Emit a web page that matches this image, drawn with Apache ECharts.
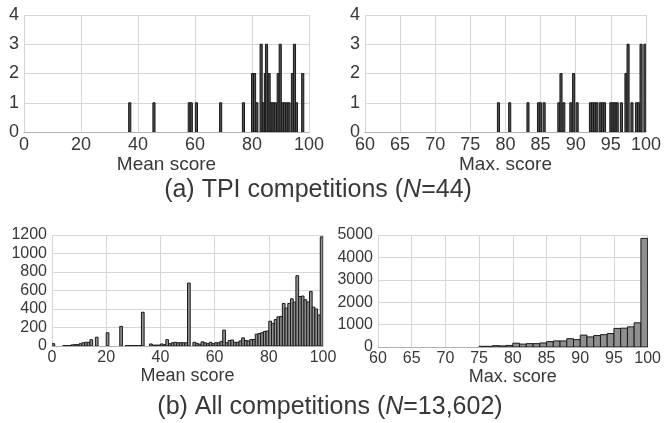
<!DOCTYPE html>
<html><head><meta charset="utf-8">
<script src="https://cdn.jsdelivr.net/npm/echarts@6/dist/echarts.min.js"></script>
<style>html,body{margin:0;padding:0;background:#fff}#c{width:664px;height:423px}</style>
</head><body><div id="c"></div>
<script>
// (a) TPI competitions: bin centres and counts
const tpiMeanX = [37.1, 45.6, 58.0, 58.7, 60.5, 69.0, 77.0, 80.2, 80.9, 81.7, 83.2, 84.0, 84.7, 85.1, 86.0, 86.7, 87.4, 88.2, 89.2, 89.9, 90.7, 91.4, 92.2, 93.0, 94.2, 94.9, 95.6, 97.8];
const tpiMeanY = [1, 1, 1, 1, 1, 1, 1, 2, 2, 1, 3, 1, 2, 3, 2, 1, 1, 1, 2, 3, 1, 1, 1, 1, 2, 3, 1, 2];
const tpiMaxX = [79.0, 80.6, 83.2, 84.7, 85.0, 85.5, 87.6, 87.9, 88.3, 89.3, 89.7, 90.2, 92.1, 92.4, 92.7, 93.0, 93.5, 93.8, 94.1, 95.0, 95.3, 95.6, 95.9, 96.5, 97.15, 97.45, 98.0, 98.65, 98.95, 99.3, 99.85];
const tpiMaxY = [1, 1, 1, 1, 1, 1, 1, 2, 1, 1, 2, 1, 1, 1, 1, 1, 1, 1, 1, 1, 1, 1, 1, 1, 2, 3, 1, 1, 1, 3, 3];

// (b) All competitions: 1-point bins (bin start, count)
const allMeanBins = [0,1,2,3,4,5,6,7,8,9,10,11,12,13,14,15,16,17,18,19,20,21,22,23,24,25,26,27,28,29,30,31,32,33,34,35,36,37,38,39,40,41,42,43,44,45,46,47,48,49,50,51,52,53,54,55,56,57,58,59,60,61,62,63,64,65,66,67,68,69,70,71,72,73,74,75,76,77,78,79,80,81,82,83,84,85,86,87,88,89,90,91,92,93,94,95,96,97,98,99];
const allMeanCounts = [
  25, 0, 0, 0, 5, 5, 5, 12, 15, 15,
  25, 35, 40, 40, 68, 0, 95, 0, 0, 0,
  143, 0, 0, 0, 0, 212, 0, 5, 5, 5,
  5, 5, 5, 365, 0, 0, 22, 10, 10, 10,
  22, 15, 68, 25, 35, 40, 35, 35, 35, 35,
  680, 0, 40, 30, 20, 45, 35, 25, 40, 25,
  35, 35, 50, 172, 35, 60, 65, 40, 40, 55,
  88, 60, 55, 70, 70, 128, 136, 143, 158, 162,
  268, 245, 285, 315, 320, 460, 410, 460, 510, 475,
  760, 535, 540, 500, 475, 590, 420, 400, 335, 1180];
const allMaxBins = [60,61,62,63,64,65,66,67,68,69,70,71,72,73,74,75,76,77,78,79,80,81,82,83,84,85,86,87,88,89,90,91,92,93,94,95,96,97,98,99];
const allMaxCounts = [0,0,0,0,0,0,0,0,0,0,0,0,0,0,0,
  30, 30, 60, 50, 70, 170, 130, 150, 150, 180,
  240, 270, 270, 370, 330, 530, 450, 510, 550, 600,
  830, 840, 900, 1080, 4850];

const meanTicks = [0, 20, 40, 60, 80, 100];
const maxTicks = [60, 65, 70, 75, 80, 85, 90, 95, 100];

const FONT = '"Liberation Sans", Arial, Helvetica, sans-serif';
const TXT = '#383838';
const GRIDC = '#d6d6d6';

function hist(idx, pts, binW, leftEdge, fill, stroke) {
  return {
    type: 'custom', xAxisIndex: idx, yAxisIndex: idx, clip: true,
    data: pts, encode: { x: 0, y: 1 },
    renderItem: function (p, api) {
      const x = api.value(0), v = api.value(1);
      if (!v) return null;
      const x0 = leftEdge ? x : x - binW / 2;
      const a = api.coord([x0, v]);
      const b = api.coord([x0 + binW, 0]);
      return { type: 'rect', shape: { x: a[0], y: a[1], width: b[0] - a[0], height: b[1] - a[1] },
        style: { fill: fill, stroke: stroke, lineWidth: 1 } };
    }
  };
}
function xAx(idx, min, max, interval, name, fs, nfs, gap) {
  return { gridIndex: idx, type: 'value', min: min, max: max, interval: interval,
    name: name, nameLocation: 'middle', nameGap: gap,
    nameTextStyle: { fontFamily: FONT, fontSize: nfs, color: TXT },
    axisLine: { show: true, lineStyle: { color: '#b0b0b0' } }, axisTick: { show: false },
    axisLabel: { fontFamily: FONT, fontSize: fs, color: TXT, margin: 4, showMaxLabel: true, showMinLabel: true,
      formatter: v => String(v) },
    splitLine: { show: true, lineStyle: { color: GRIDC } } };
}
function yAx(idx, max, interval, fs) {
  return { gridIndex: idx, type: 'value', min: 0, max: max, interval: interval,
    axisLine: { show: false }, axisTick: { show: false },
    axisLabel: { fontFamily: FONT, fontSize: fs, color: TXT, margin: 5, formatter: v => String(v) },
    splitLine: { show: true, lineStyle: { color: GRIDC } } };
}

const chart = echarts.init(document.getElementById('c'), null, { renderer: 'canvas' });
chart.setOption({
  animation: false,
  grid: [
    { left: 24, top: 15, width: 285, height: 117 },
    { left: 365, top: 15, width: 284, height: 117 },
    { left: 52, top: 235, width: 271, height: 111 },
    { left: 378, top: 235, width: 273, height: 112 }
  ],
  xAxis: [
    xAx(0, meanTicks[0], meanTicks[meanTicks.length - 1], 20, 'Mean score', 18, 19, 17),
    xAx(1, maxTicks[0], maxTicks[maxTicks.length - 1], 5, 'Max. score', 18, 19, 17),
    xAx(2, meanTicks[0], meanTicks[meanTicks.length - 1], 20, 'Mean score', 16, 18, 20),
    xAx(3, maxTicks[0], maxTicks[maxTicks.length - 1], 5, 'Max. score', 16, 18, 20)
  ],
  yAxis: [yAx(0, 4, 1, 18), yAx(1, 4, 1, 18), yAx(2, 1200, 200, 16), yAx(3, 5000, 1000, 16)],
  series: [
    hist(0, tpiMeanX.map((x, i) => [x, tpiMeanY[i]]), 0.75, false, '#4d4d4d', '#1a1a1a'),
    hist(1, tpiMaxX.map((x, i) => [x, tpiMaxY[i]]), 0.3, false, '#4d4d4d', '#1a1a1a'),
    hist(2, allMeanBins.map((x, i) => [x, allMeanCounts[i]]), 1, true, '#8f8f8f', '#1a1a1a'),
    hist(3, allMaxBins.map((x, i) => [x, allMaxCounts[i]]), 1, true, '#8f8f8f', '#1a1a1a')
  ],
  graphic: [
    { type: 'text', x: 318, y: 190, style: { text: '(a) TPI competitions ({i|N}=44)', align: 'center', verticalAlign: 'middle',
      fontFamily: FONT, fontSize: 25, fill: TXT, rich: { i: { fontStyle: 'italic', fontFamily: FONT, fontSize: 25, fill: TXT } } } },
    { type: 'text', x: 330, y: 407, style: { text: '(b) All competitions ({i|N}=13,602)', align: 'center', verticalAlign: 'middle',
      fontFamily: FONT, fontSize: 25, fill: TXT, rich: { i: { fontStyle: 'italic', fontFamily: FONT, fontSize: 25, fill: TXT } } } }
  ]
});
</script></body></html>
